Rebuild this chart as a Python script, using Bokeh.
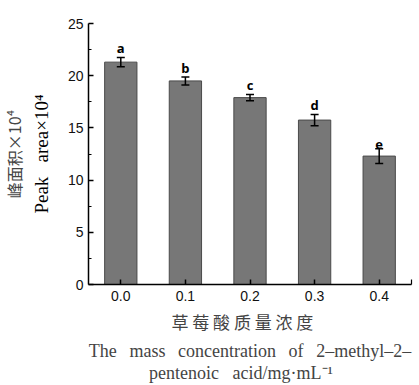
from bokeh.plotting import figure
from bokeh.models import (ColumnDataSource, Whisker, TeeHead, FixedTicker,
                          NumeralTickFormatter, Title, Range1d)
from bokeh.embed import file_html
from bokeh.resources import INLINE
from bokeh.core.properties import value

conc = [0.0, 0.1, 0.2, 0.3, 0.4]
peak = [21.3, 19.5, 17.9, 15.75, 12.3]
err = [0.45, 0.38, 0.30, 0.54, 0.70]
letters = ["a", "b", "c", "d", "e"]
y_ticks = [0, 5, 10, 15, 20, 25]
y_minor = [2.5, 7.5, 12.5, 17.5, 22.5]
x_ticks = [0.0, 0.1, 0.2, 0.3, 0.4]

src = ColumnDataSource(dict(
    x=conc, top=peak,
    upper=[p + e for p, e in zip(peak, err)],
    lower=[p - e for p, e in zip(peak, err)],
    lab=letters,
))

p = figure(width=417, height=383, output_backend="svg", toolbar_location=None,
           x_range=Range1d(-0.05, 0.45), y_range=Range1d(0, 25),
           min_border_left=87, min_border_right=6, min_border_top=23,
           min_border_bottom=99)
p.outline_line_color = None
p.grid.visible = False

p.vbar(x="x", top="top", width=0.05, source=src, fill_color="#777777",
       line_color="#4a4a4a", line_width=1)

w = Whisker(source=src, base="x", upper="upper", lower="lower", level="annotation",
            line_color="black", line_width=1.5,
            upper_head=TeeHead(size=8, line_width=1.5, line_color="black"),
            lower_head=TeeHead(size=8, line_width=1.5, line_color="black"))
p.add_layout(w)

p.text(x="x", y="upper", text="lab", source=src, text_align="center",
       text_baseline="bottom", y_offset=0, text_font=value("Open Sans"),
       text_font_style="bold", text_font_size="13px", text_color="black")

for ax in (p.xaxis[0], p.yaxis[0]):
    ax.axis_line_width = 1.5
    ax.axis_line_color = "black"
    ax.major_tick_line_color = "black"
    ax.minor_tick_line_color = "black"
    ax.major_tick_line_width = 1.5
    ax.minor_tick_line_width = 1.2
    ax.major_tick_in = 5
    ax.major_tick_out = 0
    ax.minor_tick_in = 3
    ax.minor_tick_out = 0
    ax.major_label_text_font = "Liberation Sans"
    ax.major_label_text_font_size = "14px"
    ax.major_label_text_color = "#111111"
    ax.axis_label_text_font_style = "normal"
    ax.axis_label_text_color = "black"

NB = "\u00a0"
TH = "\u2009"

p.yaxis.ticker = FixedTicker(ticks=y_ticks, minor_ticks=y_minor)
p.yaxis.major_label_standoff = 5
p.yaxis.axis_label = "Peak" + NB + NB + NB + "area×10⁴"
p.yaxis.axis_label_text_font = "Liberation Serif"
p.yaxis.axis_label_text_font_size = "19px"
p.yaxis.axis_label_standoff = 13

p.xaxis.ticker = FixedTicker(ticks=x_ticks, minor_ticks=[0.45])
p.xaxis[0].minor_tick_in = 5
p.xaxis.formatter = NumeralTickFormatter(format="0.0")
p.xaxis.major_label_standoff = 6

p.add_layout(Title(text="峰面积×10⁴", align="center", vertical_align="middle",
                   text_font="Noto Sans CJK SC", text_font_size="16px",
                   text_font_style="normal", standoff=1), "left")

gap = " " + NB + TH
p.add_layout(Title(text=" ".join("草莓酸质量浓度") + NB * 4, align="center",
                   vertical_align="middle",
                   text_font="Noto Sans CJK SC", text_font_size="17px",
                   text_font_style="normal", standoff=8), "below")
p.add_layout(Title(text=gap.join(["The", "mass", "concentration", "of", "2–methyl–2–"]),
                   align="center", vertical_align="bottom",
                   text_font="Liberation Serif", text_font_size="18px",
                   text_font_style="normal", standoff=0), "below")
p.add_layout(Title(text="pentenoic" + " " + NB + NB + "acid/mg·mL⁻¹" + NB * 4,
                   align="center", vertical_align="bottom",
                   text_font="Liberation Serif", text_font_size="18px",
                   text_font_style="normal", standoff=1), "below")

open("out.html", "w").write(file_html(p, INLINE))
